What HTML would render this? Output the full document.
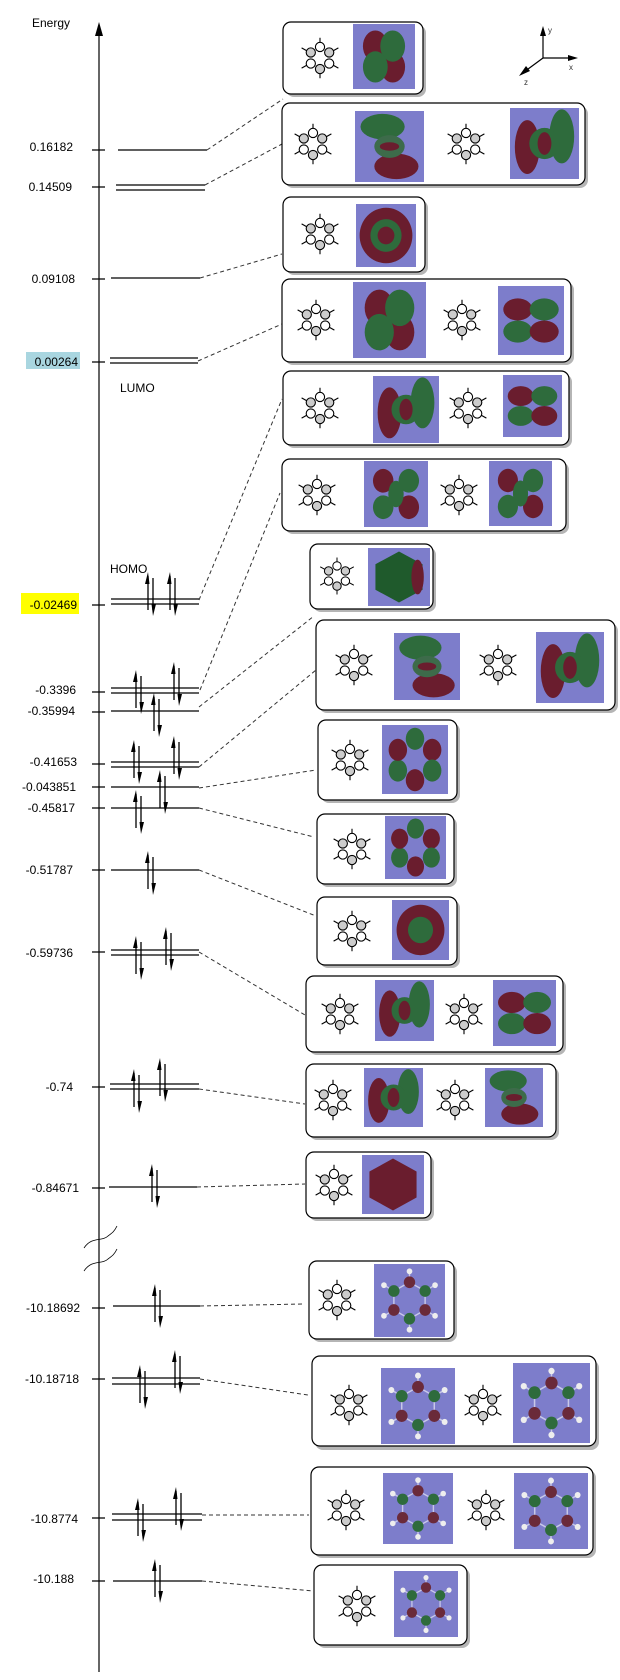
<!DOCTYPE html>
<html><head><meta charset="utf-8"><style>
html,body{margin:0;padding:0;background:#fff}
svg{display:block}
text{font-family:"Liberation Sans",sans-serif}
</style></head><body>
<svg width="620" height="1680" viewBox="0 0 620 1680" xmlns="http://www.w3.org/2000/svg">
<defs>
<symbol id="e" viewBox="0 0 12 44" width="12" height="44">
<line x1="3" y1="38" x2="3" y2="4" stroke="#000" stroke-width="1.3"/>
<polygon points="0,12 3,0 4.5,12" fill="#000"/>
<line x1="8" y1="6" x2="8" y2="38" stroke="#000" stroke-width="1.3"/>
<polygon points="6.5,32 8,44 11,32" fill="#000"/>
</symbol>
<symbol id="m" viewBox="0 0 50 50">
<g stroke="#000" stroke-width="1.2" fill="#fff">
<line x1="25" y1="3" x2="25" y2="13"/><line x1="25" y1="37" x2="25" y2="47"/>
<line x1="5" y1="14" x2="14" y2="19"/><line x1="45" y1="14" x2="36" y2="19"/>
<line x1="5" y1="36" x2="14" y2="31"/><line x1="45" y1="36" x2="36" y2="31"/>
<circle cx="25" cy="13" r="5"/><circle cx="35" cy="19" r="5" fill="#ccc"/>
<circle cx="35" cy="31" r="5"/><circle cx="25" cy="37" r="5" fill="#ccc"/>
<circle cx="15" cy="31" r="5"/><circle cx="15" cy="19" r="5" fill="#ccc"/>
</g>
<g fill="#000" font-size="9" font-family="Liberation Sans,sans-serif"></g>
</symbol>
<symbol id="o4" viewBox="0 0 100 100" preserveAspectRatio="none">
<rect width="100" height="100" fill="#7d7dcb"/>
<ellipse cx="36" cy="34" rx="20" ry="24" fill="#6a1d2e"/><ellipse cx="64" cy="66" rx="20" ry="24" fill="#6a1d2e"/>
<ellipse cx="64" cy="34" rx="20" ry="24" fill="#2e6b3c"/><ellipse cx="36" cy="66" rx="20" ry="24" fill="#2e6b3c"/>
</symbol>
<symbol id="o2" viewBox="0 0 100 100" preserveAspectRatio="none">
<rect width="100" height="100" fill="#7d7dcb"/>
<ellipse cx="40" cy="22" rx="32" ry="18" fill="#2e6b3c"/><ellipse cx="60" cy="78" rx="32" ry="18" fill="#6a1d2e"/>
<ellipse cx="50" cy="50" rx="22" ry="16" fill="#3d6b4a"/><ellipse cx="50" cy="50" rx="14" ry="6" fill="#6a1d2e"/>
</symbol>
<symbol id="o2b" viewBox="0 0 100 100" preserveAspectRatio="none">
<rect width="100" height="100" fill="#7d7dcb"/>
<ellipse cx="25" cy="55" rx="18" ry="38" fill="#6a1d2e"/><ellipse cx="75" cy="40" rx="18" ry="38" fill="#2e6b3c"/>
<ellipse cx="50" cy="50" rx="22" ry="22" fill="#2e6b3c"/><ellipse cx="50" cy="50" rx="10" ry="16" fill="#6a1d2e"/>
</symbol>
<symbol id="ring" viewBox="0 0 100 100" preserveAspectRatio="none">
<rect width="100" height="100" fill="#7d7dcb"/>
<circle cx="50" cy="50" r="44" fill="#6a1d2e"/><circle cx="50" cy="50" r="26" fill="#2e6b3c"/><circle cx="50" cy="50" r="14" fill="#6a1d2e"/>
</symbol>
<symbol id="ringg" viewBox="0 0 100 100" preserveAspectRatio="none">
<rect width="100" height="100" fill="#7d7dcb"/>
<circle cx="50" cy="50" r="42" fill="#6a1d2e"/><circle cx="50" cy="50" r="22" fill="#2e6b3c"/>
</symbol>
<symbol id="gh" viewBox="0 0 100 100" preserveAspectRatio="none">
<rect width="100" height="100" fill="#7d7dcb"/>
<polygon points="50,6 88,28 88,72 50,94 12,72 12,28" fill="#1f5a2c"/><ellipse cx="80" cy="50" rx="10" ry="30" fill="#6a1d2e"/>
</symbol>
<symbol id="rh" viewBox="0 0 100 100" preserveAspectRatio="none">
<rect width="100" height="100" fill="#7d7dcb"/>
<polygon points="50,6 88,28 88,72 50,94 12,72 12,28" fill="#6a1d2e"/>
</symbol>
<symbol id="l6" viewBox="0 0 100 100" preserveAspectRatio="none">
<rect width="100" height="100" fill="#7d7dcb"/>
<ellipse cx="50" cy="20" rx="14" ry="16" fill="#2e6b3c"/><ellipse cx="76" cy="36" rx="14" ry="16" fill="#6a1d2e"/>
<ellipse cx="76" cy="66" rx="14" ry="16" fill="#2e6b3c"/><ellipse cx="50" cy="80" rx="14" ry="16" fill="#6a1d2e"/>
<ellipse cx="24" cy="66" rx="14" ry="16" fill="#2e6b3c"/><ellipse cx="24" cy="36" rx="14" ry="16" fill="#6a1d2e"/>
</symbol>
<symbol id="dg" viewBox="0 0 100 100" preserveAspectRatio="none">
<rect width="100" height="100" fill="#7d7dcb"/>
<ellipse cx="30" cy="30" rx="16" ry="18" fill="#6a1d2e"/><ellipse cx="70" cy="70" rx="16" ry="18" fill="#6a1d2e"/>
<ellipse cx="70" cy="30" rx="16" ry="18" fill="#2e6b3c"/><ellipse cx="30" cy="70" rx="16" ry="18" fill="#2e6b3c"/>
<ellipse cx="50" cy="50" rx="12" ry="20" fill="#2e6b3c"/>
</symbol>
<symbol id="tb" viewBox="0 0 100 100" preserveAspectRatio="none">
<rect width="100" height="100" fill="#7d7dcb"/>
<ellipse cx="30" cy="34" rx="22" ry="16" fill="#6a1d2e"/><ellipse cx="70" cy="34" rx="22" ry="16" fill="#2e6b3c"/>
<ellipse cx="30" cy="66" rx="22" ry="16" fill="#2e6b3c"/><ellipse cx="70" cy="66" rx="22" ry="16" fill="#6a1d2e"/>
</symbol>
<symbol id="at" viewBox="0 0 100 100" preserveAspectRatio="none">
<rect width="100" height="100" fill="#7d7dcb"/>
<g stroke="#c8c8e8" stroke-width="2"><polygon points="50,25 72,37 72,63 50,75 28,63 28,37" fill="none"/>
<line x1="50" y1="25" x2="50" y2="12"/><line x1="50" y1="75" x2="50" y2="88"/><line x1="72" y1="37" x2="84" y2="30"/><line x1="28" y1="37" x2="16" y2="30"/><line x1="72" y1="63" x2="84" y2="70"/><line x1="28" y1="63" x2="16" y2="70"/></g>
<circle cx="50" cy="25" r="8" fill="#6a2a3a"/><circle cx="72" cy="37" r="8" fill="#2e6b3c"/><circle cx="72" cy="63" r="8" fill="#6a2a3a"/>
<circle cx="50" cy="75" r="8" fill="#2e6b3c"/><circle cx="28" cy="63" r="8" fill="#6a2a3a"/><circle cx="28" cy="37" r="8" fill="#2e6b3c"/>
<g fill="#eee"><circle cx="50" cy="10" r="4"/><circle cx="50" cy="90" r="4"/><circle cx="86" cy="29" r="4"/><circle cx="14" cy="29" r="4"/><circle cx="86" cy="71" r="4"/><circle cx="14" cy="71" r="4"/></g>
</symbol>
</defs>

<!-- axis -->
<line x1="99" y1="30" x2="99" y2="1672" stroke="#000" stroke-width="1.2"/>
<polygon points="95,36 99,22 103,36" fill="#000"/>
<text x="32" y="27" font-size="12">Energy</text>
<!-- break marks -->
<path d="M84,1248 C92,1236 102,1242 108,1236 C112,1233 114,1232 117,1226" fill="none" stroke="#000" stroke-width="0.8"/>
<path d="M84,1271 C92,1259 102,1265 108,1259 C112,1256 114,1255 117,1249" fill="none" stroke="#000" stroke-width="0.8"/>

<!-- highlights -->
<rect x="26" y="352" width="54" height="17" fill="#a9d6e0"/>
<rect x="21" y="593" width="58" height="21" fill="#ffff00"/>

<g font-size="12" text-anchor="end" fill="#000">
<text x="73" y="151">0.16182</text>
<text x="72" y="191">0.14509</text>
<text x="75" y="283">0.09108</text>
<text x="78" y="366">0.00264</text>
<text x="77" y="609">-0.02469</text>
<text x="76" y="694">-0.3396</text>
<text x="75" y="715">-0.35994</text>
<text x="77" y="766">-0.41653</text>
<text x="76" y="791">-0.043851</text>
<text x="75" y="812">-0.45817</text>
<text x="73" y="874">-0.51787</text>
<text x="73" y="957">-0.59736</text>
<text x="73" y="1091">-0.74</text>
<text x="79" y="1192">-0.84671</text>
<text x="80" y="1312">-10.18692</text>
<text x="79" y="1383">-10.18718</text>
<text x="78" y="1523">-10.8774</text>
<text x="74" y="1583">-10.188</text>
</g>
<text x="120" y="392" font-size="12">LUMO</text>
<text x="110" y="573" font-size="12">HOMO</text>

<!-- ticks & levels -->
<g stroke="#000" stroke-width="1.2">
<path d="M92,150h13 M92,187h13 M92,279h13 M92,362h13 M92,605h13 M92,692h13 M92,712h13 M92,764h13 M92,787h13 M92,808h13 M92,870h13 M92,952h13 M92,1087h13 M92,1188h13 M92,1308h13 M92,1379h13 M92,1518h13 M92,1581h13"/>
<path d="M118,150H207 M116,185H205 M116,190H205 M111,278H200 M110,358H198 M110,363H198
M111,599H199 M111,604H199 M111,688H199 M111,693H199 M111,711H199 M111,762H199 M111,767H199 M111,787H199 M111,808H199
M111,870H199 M111,950H199 M111,955H199 M110,1084H199 M110,1089H199 M109,1187H197 M113,1306H200 M112,1378H200 M112,1384H200 M112,1514H202 M112,1520H202 M113,1581H202"/>
</g>

<!-- electrons -->
<g>
<use href="#e" x="145" y="572"/><use href="#e" x="167" y="572"/>
<use href="#e" x="133" y="670"/><use href="#e" x="151" y="693"/><use href="#e" x="171" y="662"/>
<use href="#e" x="131" y="740"/><use href="#e" x="171" y="736"/><use href="#e" x="157" y="770"/><use href="#e" x="133" y="790"/>
<use href="#e" x="145" y="851"/>
<use href="#e" x="133" y="936"/><use href="#e" x="163" y="927"/>
<use href="#e" x="131" y="1069"/><use href="#e" x="157" y="1058"/>
<use href="#e" x="149" y="1164"/>
<use href="#e" x="152" y="1284"/>
<use href="#e" x="137" y="1365"/><use href="#e" x="172" y="1350"/>
<use href="#e" x="135" y="1498"/><use href="#e" x="173" y="1487"/>
<use href="#e" x="152" y="1559"/>
</g>

<!-- connectors -->
<g stroke="#333" stroke-width="1" stroke-dasharray="4,3" fill="none">
<path d="M207,150L283,99 M205,185L282,144 M200,278L282,254 M198,361L282,324 M199,600L282,399 M200,690L280,493
M199,707L314,616 M199,767L316,670 M199,788L316,770 M199,808L314,837 M199,870L316,916 M199,952L305,1015 M199,1089L305,1104
M197,1187L305,1184 M200,1306L304,1304 M200,1379L308,1395 M202,1515L309,1515 M202,1581L314,1591"/>
</g>

<!-- coordinate axes -->
<g stroke="#000" stroke-width="1.2">
<line x1="543" y1="58" x2="543" y2="32"/><line x1="543" y1="58" x2="572" y2="58"/><line x1="543" y1="58" x2="524" y2="72"/>
</g>
<polygon points="540,36 543,26 546,36" fill="#000"/>
<polygon points="568,55 578,58 568,61" fill="#000"/>
<polygon points="526,66 519,76 530,71" fill="#000"/>
<g font-family="Liberation Serif,serif" font-size="8" fill="#333">
<text x="548" y="33">y</text><text x="569" y="70">x</text><text x="524" y="85">z</text>
</g>

<!-- boxes -->
<g stroke="#000" stroke-width="1.2">
<g fill="#b5b5b5" stroke="none">
<rect x="286" y="25" width="140" height="72" rx="8"/>
<rect x="285" y="106" width="303" height="82" rx="8"/>
<rect x="286" y="200" width="142" height="75" rx="8"/>
<rect x="285" y="282" width="289" height="83" rx="8"/>
<rect x="286" y="374" width="286" height="74" rx="8"/>
<rect x="285" y="462" width="284" height="72" rx="8"/>
<rect x="313" y="547" width="123" height="65" rx="8"/>
<rect x="319" y="623" width="299" height="90" rx="8"/>
<rect x="321" y="723" width="139" height="80" rx="8"/>
<rect x="320" y="817" width="137" height="70" rx="8"/>
<rect x="320" y="900" width="140" height="68" rx="8"/>
<rect x="309" y="979" width="257" height="76" rx="8"/>
<rect x="309" y="1067" width="250" height="73" rx="8"/>
<rect x="309" y="1155" width="125" height="66" rx="8"/>
<rect x="312" y="1264" width="145" height="78" rx="8"/>
<rect x="315" y="1360" width="284" height="90" rx="8"/>
<rect x="314" y="1470" width="282" height="88" rx="8"/>
<rect x="317" y="1568" width="153" height="80" rx="8"/>
</g>
<g fill="#fff">
<rect x="283" y="22" width="140" height="72" rx="8"/>
<rect x="282" y="103" width="303" height="82" rx="8"/>
<rect x="283" y="197" width="142" height="75" rx="8"/>
<rect x="282" y="279" width="289" height="83" rx="8"/>
<rect x="283" y="371" width="286" height="74" rx="8"/>
<rect x="282" y="459" width="284" height="72" rx="8"/>
<rect x="310" y="544" width="123" height="65" rx="8"/>
<rect x="316" y="620" width="299" height="90" rx="8"/>
<rect x="318" y="720" width="139" height="80" rx="8"/>
<rect x="317" y="814" width="137" height="70" rx="8"/>
<rect x="317" y="897" width="140" height="68" rx="8"/>
<rect x="306" y="976" width="257" height="76" rx="8"/>
<rect x="306" y="1064" width="250" height="73" rx="8"/>
<rect x="306" y="1152" width="125" height="66" rx="8"/>
<rect x="309" y="1261" width="145" height="78" rx="8"/>
<rect x="312" y="1356" width="284" height="90" rx="8"/>
<rect x="311" y="1467" width="282" height="88" rx="8"/>
<rect x="314" y="1565" width="153" height="80" rx="8"/>
</g>
</g>

<!-- orbital images -->
<use href="#o4" x="353" y="24" width="62" height="65"/>
<use href="#o2" x="355" y="111" width="69" height="71"/>
<use href="#o2b" x="510" y="108" width="69" height="71"/>
<use href="#ring" x="356" y="204" width="60" height="63"/>
<use href="#o4" x="353" y="282" width="73" height="76"/>
<use href="#tb" x="498" y="286" width="66" height="69"/>
<use href="#o2b" x="373" y="376" width="66" height="67"/>
<use href="#tb" x="503" y="375" width="59" height="62"/>
<use href="#dg" x="364" y="461" width="64" height="66"/>
<use href="#dg" x="489" y="461" width="63" height="65"/>
<use href="#gh" x="368" y="548" width="62" height="58"/>
<use href="#o2" x="394" y="633" width="66" height="67"/>
<use href="#o2b" x="536" y="632" width="68" height="71"/>
<use href="#l6" x="382" y="725" width="66" height="69"/>
<use href="#l6" x="385" y="816" width="61" height="63"/>
<use href="#ringg" x="392" y="900" width="57" height="60"/>
<use href="#o2b" x="375" y="980" width="59" height="61"/>
<use href="#tb" x="493" y="980" width="63" height="66"/>
<use href="#o2b" x="364" y="1068" width="59" height="59"/>
<use href="#o2" x="485" y="1068" width="58" height="59"/>
<use href="#rh" x="362" y="1155" width="62" height="59"/>
<use href="#at" x="374" y="1264" width="71" height="73"/>
<use href="#at" x="381" y="1368" width="74" height="76"/>
<use href="#at" x="513" y="1363" width="77" height="80"/>
<use href="#at" x="383" y="1473" width="70" height="71"/>
<use href="#at" x="514" y="1473" width="74" height="76"/>
<use href="#at" x="394" y="1571" width="64" height="66"/>

<!-- molecule sketches -->
<use href="#m" x="297" y="34" width="46" height="48"/>
<use href="#m" x="290" y="120" width="46" height="48"/>
<use href="#m" x="443" y="120" width="46" height="48"/>
<use href="#m" x="297" y="210" width="46" height="48"/>
<use href="#m" x="293" y="296" width="46" height="48"/>
<use href="#m" x="439" y="296" width="46" height="48"/>
<use href="#m" x="297" y="384" width="46" height="48"/>
<use href="#m" x="445" y="384" width="46" height="48"/>
<use href="#m" x="294" y="471" width="46" height="48"/>
<use href="#m" x="436" y="471" width="46" height="48"/>
<use href="#m" x="316" y="554" width="42" height="44"/>
<use href="#m" x="331" y="641" width="46" height="48"/>
<use href="#m" x="475" y="641" width="46" height="48"/>
<use href="#m" x="327" y="736" width="46" height="48"/>
<use href="#m" x="329" y="825" width="46" height="48"/>
<use href="#m" x="329" y="907" width="46" height="48"/>
<use href="#m" x="317" y="990" width="46" height="48"/>
<use href="#m" x="441" y="990" width="46" height="48"/>
<use href="#m" x="310" y="1076" width="46" height="48"/>
<use href="#m" x="432" y="1076" width="46" height="48"/>
<use href="#m" x="311" y="1161" width="46" height="48"/>
<use href="#m" x="314" y="1276" width="46" height="48"/>
<use href="#m" x="326" y="1381" width="46" height="48"/>
<use href="#m" x="460" y="1381" width="46" height="48"/>
<use href="#m" x="323" y="1486" width="46" height="48"/>
<use href="#m" x="463" y="1486" width="46" height="48"/>
<use href="#m" x="334" y="1582" width="46" height="48"/>
</svg>
</body></html>
